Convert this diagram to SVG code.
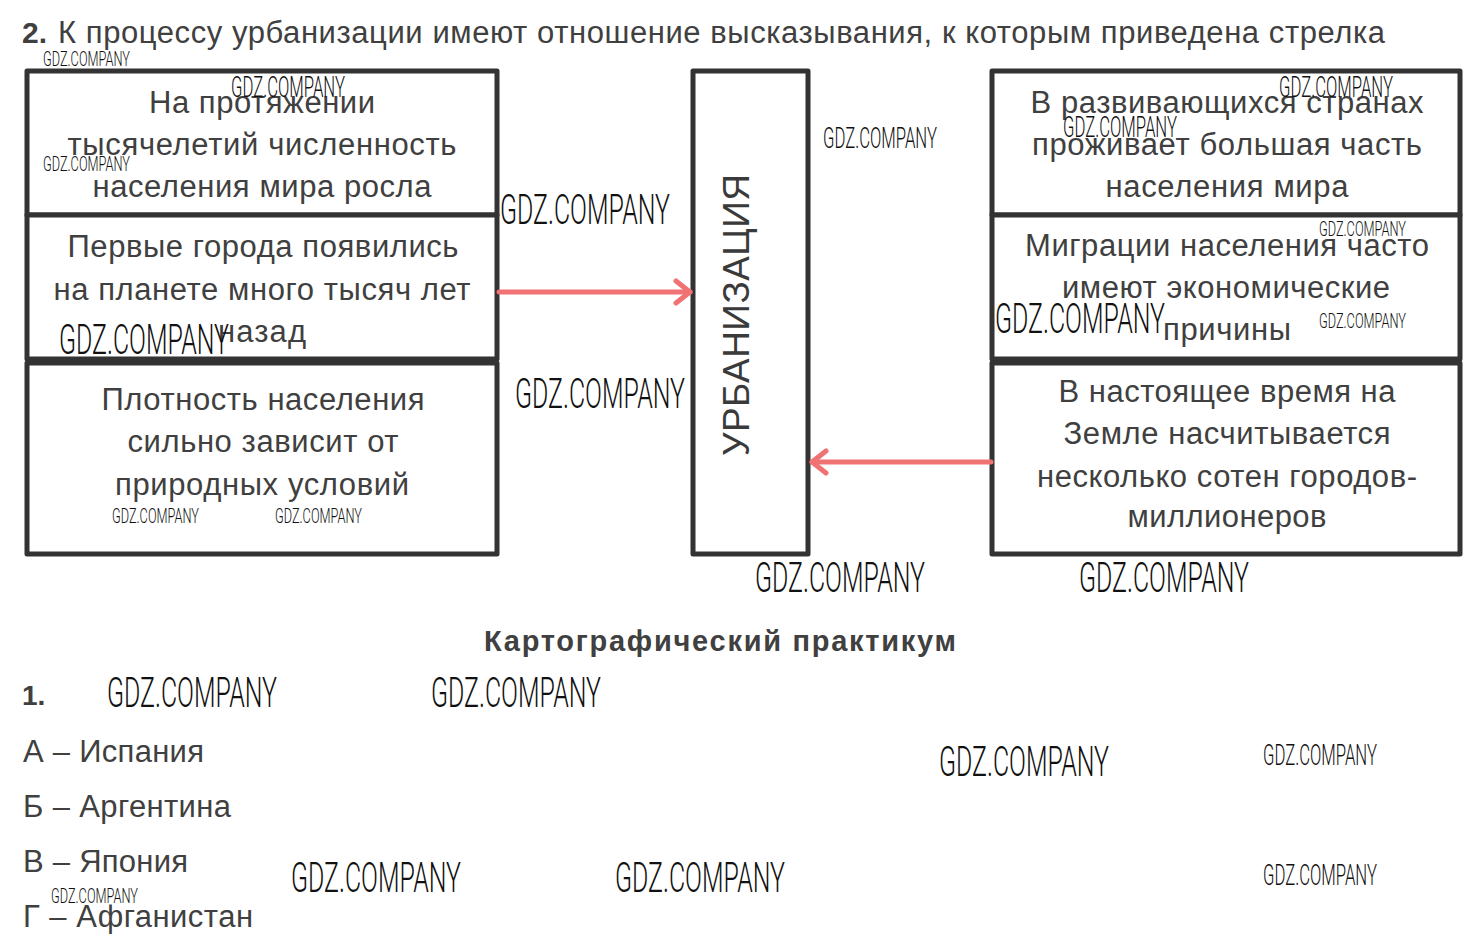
<svg xmlns="http://www.w3.org/2000/svg" width="1475" height="949" viewBox="0 0 1475 949">
<style>
.box{fill:#fff;stroke:#333;stroke-width:5;stroke-linejoin:round}
.t{font-family:"Liberation Sans",Arial,sans-serif;font-size:31px;fill:#404040;text-anchor:middle}
.h{font-family:"Liberation Sans",Arial,sans-serif;font-size:31px;fill:#404040}
.b{font-weight:bold}
.con{stroke:#f07272;stroke-width:5;fill:none;stroke-linecap:round}
.wm{font-family:Roboto,"DejaVu Sans",sans-serif;font-weight:300;fill:#111}
.s{font-size:21px}
.m{font-size:30px}
.l{font-size:43px}
</style>
<defs>
<marker id="ah" viewBox="0 0 22 28" refX="19" refY="14" markerWidth="22" markerHeight="28" markerUnits="userSpaceOnUse" orient="auto">
<path d="M5,3 L19,14 L5,25" fill="none" stroke="#f07272" stroke-width="5" stroke-linecap="round" stroke-linejoin="round"/>
</marker>
</defs>
<rect width="1475" height="949" fill="#fff"/>

<g id="header">
<text class="h b" x="22" y="43" style="font-size:30px">2.</text>
<text class="h" x="58" y="43" textLength="1327">К процессу урбанизации имеют отношение высказывания, к которым приведена стрелка</text>
</g>

<g id="left1">
<rect class="box" x="27" y="71" width="470" height="144"/>
<text class="t" x="262" y="113" textLength="226">На протяжении</text>
<text class="t" x="262" y="155" textLength="389">тысячелетий численность</text>
<text class="t" x="262" y="197" textLength="339">населения мира росла</text>
</g>
<g id="left2">
<rect class="box" x="27" y="215" width="470" height="144"/>
<text class="t" x="263" y="257" textLength="391">Первые города появились</text>
<text class="t" x="262" y="300" textLength="417">на планете много тысяч лет</text>
<text class="t" x="262" y="342" textLength="88">назад</text>
</g>
<g id="left3">
<rect class="box" x="27" y="363" width="470" height="191"/>
<text class="t" x="263" y="410" textLength="323">Плотность населения</text>
<text class="t" x="263" y="452" textLength="271">сильно зависит от</text>
<text class="t" x="262" y="495" textLength="294">природных условий</text>
</g>

<g id="center">
<rect class="box" x="693" y="71" width="115" height="483"/>
<text class="t" transform="translate(749,315) rotate(-90)" x="0" y="0" textLength="282" style="font-size:37px;fill:#3a3a3a">УРБАНИЗАЦИЯ</text>
</g>

<g id="right1">
<rect class="box" x="992" y="71" width="468" height="144"/>
<text class="t" x="1227" y="113" textLength="393">В развивающихся странах</text>
<text class="t" x="1227" y="155" textLength="390">проживает большая часть</text>
<text class="t" x="1227" y="197" textLength="243">населения мира</text>
</g>
<g id="right2">
<rect class="box" x="992" y="215" width="468" height="144"/>
<text class="t" x="1227" y="256" textLength="404">Миграции населения часто</text>
<text class="t" x="1226" y="298" textLength="328">имеют экономические</text>
<text class="t" x="1227" y="340" textLength="128">причины</text>
</g>
<g id="right3">
<rect class="box" x="992" y="363" width="468" height="191"/>
<text class="t" x="1227" y="402" textLength="337">В настоящее время на</text>
<text class="t" x="1227" y="444" textLength="327">Земле насчитывается</text>
<text class="t" x="1227" y="487" textLength="380">несколько сотен городов-</text>
<text class="t" x="1227" y="527" textLength="199">миллионеров</text>
</g>

<g id="connectors">
<line class="con" x1="499" y1="292" x2="690" y2="292" marker-end="url(#ah)"/>
<line class="con" x1="991" y1="462" x2="812" y2="462" marker-end="url(#ah)"/>
</g>

<g id="section">
<text class="h b" x="720" y="651" text-anchor="middle" textLength="472" style="font-size:29px">Картографический практикум</text>
<text class="h b" x="22" y="705" style="font-size:28px">1.</text>
<text class="h" x="23" y="762" textLength="181">А – Испания</text>
<text class="h" x="23" y="817" textLength="208">Б – Аргентина</text>
<text class="h" x="23" y="872" textLength="165">В – Япония</text>
<text class="h" x="23" y="927" textLength="230">Г – Афганистан</text>
</g>

<g id="watermarks">
<text class="wm s" x="43" y="66" textLength="87" lengthAdjust="spacingAndGlyphs">GDZ.COMPANY</text>
<text class="wm s" x="43" y="171" textLength="87" lengthAdjust="spacingAndGlyphs">GDZ.COMPANY</text>
<text class="wm s" x="112" y="523" textLength="87" lengthAdjust="spacingAndGlyphs">GDZ.COMPANY</text>
<text class="wm s" x="275" y="523" textLength="87" lengthAdjust="spacingAndGlyphs">GDZ.COMPANY</text>
<text class="wm s" x="1319" y="236" textLength="87" lengthAdjust="spacingAndGlyphs">GDZ.COMPANY</text>
<text class="wm s" x="1319" y="328" textLength="87" lengthAdjust="spacingAndGlyphs">GDZ.COMPANY</text>
<text class="wm s" x="51" y="903" textLength="87" lengthAdjust="spacingAndGlyphs">GDZ.COMPANY</text>
<text class="wm m" x="231" y="97" textLength="114" lengthAdjust="spacingAndGlyphs">GDZ.COMPANY</text>
<text class="wm m" x="823" y="148" textLength="114" lengthAdjust="spacingAndGlyphs">GDZ.COMPANY</text>
<text class="wm m" x="1279" y="97" textLength="114" lengthAdjust="spacingAndGlyphs">GDZ.COMPANY</text>
<text class="wm m" x="1063" y="137" textLength="114" lengthAdjust="spacingAndGlyphs">GDZ.COMPANY</text>
<text class="wm m" x="1263" y="765" textLength="114" lengthAdjust="spacingAndGlyphs">GDZ.COMPANY</text>
<text class="wm m" x="1263" y="885" textLength="114" lengthAdjust="spacingAndGlyphs">GDZ.COMPANY</text>
<text class="wm l" x="500" y="224" textLength="170" lengthAdjust="spacingAndGlyphs">GDZ.COMPANY</text>
<text class="wm l" x="59" y="354" textLength="170" lengthAdjust="spacingAndGlyphs">GDZ.COMPANY</text>
<text class="wm l" x="515" y="408" textLength="170" lengthAdjust="spacingAndGlyphs">GDZ.COMPANY</text>
<text class="wm l" x="995" y="333" textLength="170" lengthAdjust="spacingAndGlyphs">GDZ.COMPANY</text>
<text class="wm l" x="755" y="592" textLength="170" lengthAdjust="spacingAndGlyphs">GDZ.COMPANY</text>
<text class="wm l" x="1079" y="592" textLength="170" lengthAdjust="spacingAndGlyphs">GDZ.COMPANY</text>
<text class="wm l" x="107" y="707" textLength="170" lengthAdjust="spacingAndGlyphs">GDZ.COMPANY</text>
<text class="wm l" x="431" y="707" textLength="170" lengthAdjust="spacingAndGlyphs">GDZ.COMPANY</text>
<text class="wm l" x="939" y="776" textLength="170" lengthAdjust="spacingAndGlyphs">GDZ.COMPANY</text>
<text class="wm l" x="291" y="892" textLength="170" lengthAdjust="spacingAndGlyphs">GDZ.COMPANY</text>
<text class="wm l" x="615" y="892" textLength="170" lengthAdjust="spacingAndGlyphs">GDZ.COMPANY</text>
</g>
</svg>
